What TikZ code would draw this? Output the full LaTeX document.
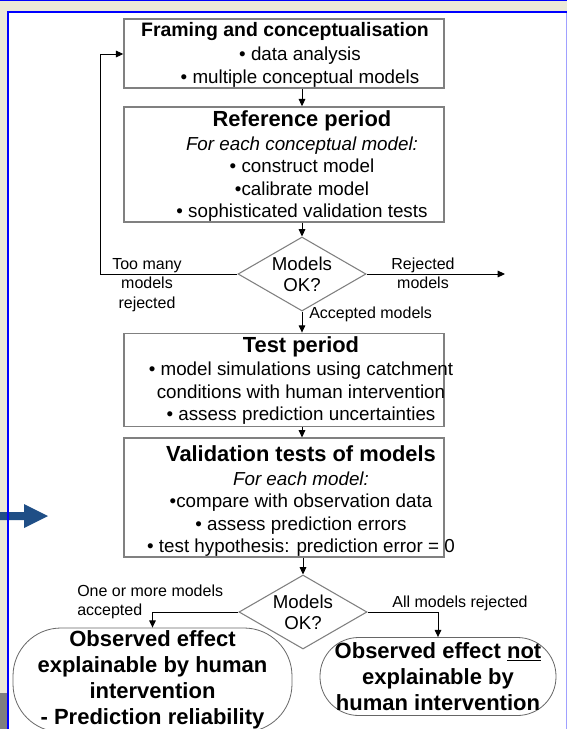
\documentclass[tikz,border=0pt]{standalone}
\usepackage{fontspec}
\setmainfont{Liberation Sans}
\usetikzlibrary{arrows.meta,shapes.geometric}

\definecolor{winbeige}{HTML}{ECE9D8}
\definecolor{frameblue}{HTML}{0000FF}
\definecolor{lavender}{HTML}{A0A0FF}
\definecolor{navyarrow}{HTML}{1F4E86}
\definecolor{boxgray}{HTML}{808080}
\definecolor{stripgray}{HTML}{7F7F7F}

\newcommand\boxtitle{\fontsize{16.4}{18}\selectfont\bfseries}
\newcommand\smalltitle{\fontsize{14.6}{18}\selectfont\bfseries}
\newcommand\outcomefont{\fontsize{16.5}{19.5}\selectfont\bfseries}
\newcommand\labeltext{\fontsize{12}{14.5}\selectfont}

\tikzset{
  flowbox/.style={draw=boxgray, line width=1.1pt, minimum width=240pt,
    inner sep=0pt},
  boxtext/.style={align=center, inner sep=0pt,
    font=\fontsize{14.1}{16.9}\selectfont},
  decision/.style={diamond, draw=boxgray, line width=0.8pt, inner sep=0pt,
    minimum width=96pt, minimum height=55.5pt},
  decisiontext/.style={align=center, inner sep=0pt,
    font=\fontsize{14}{15.5}\selectfont},
  outcome/.style={draw=boxgray!80!black, line width=0.6pt, align=center,
    inner sep=0pt, font=\outcomefont},
  arr/.style={draw=black, line width=0.75pt,
    -{Triangle[length=5.5pt,width=5pt]}},
  edgelabel/.style={inner sep=0pt, font=\labeltext}
}

\begin{document}
\begin{tikzpicture}[x=0.75pt,y=-0.75pt]
\useasboundingbox (0,0) rectangle (567,729);

% window background and frame
\fill[winbeige] (0,0) rectangle (567,729);
\fill[white] (8,13) rectangle (566,729);
\fill[frameblue] (0,0) rectangle (567,1);
\fill[stripgray] (0,693) rectangle (7,729);
\fill[lavender] (566,13) rectangle (567,729);
\fill[navyarrow] (0,512) -- (24,512) -- (24,504) -- (48,516) -- (24,528)
  -- (24,520) -- (0,520) -- cycle;
\fill[frameblue] (7,11) rectangle (567,12.8);
\fill[frameblue] (7,11) rectangle (8.6,729);

% process boxes (frames)
\node[flowbox, minimum height=51.75pt] (b1) at (284,53.5) {};
\node[flowbox, minimum height=86.25pt] (b2) at (284,164.5) {};
\node[flowbox, minimum height=70pt] (b3) at (284,380) {};
\node[flowbox, minimum height=89pt] (b4) at (284,497.5) {};

% process box texts, set in a column slightly right of the box centres
\node[boxtext] (b1t) at (300,55)
  {{\smalltitle Framing and conceptualisation}\makebox[22.5pt]{}\\[1pt]
   • data analysis\\
   • multiple conceptual models};
\node[boxtext] (b2t) at (302,166)
  {{\boxtitle Reference period}\\[1pt]
   \textit{For each conceptual model:}\\
   • construct model\\
   •calibrate model\\
   • sophisticated validation tests};
\node[boxtext] (b3t) at (301,380.5)
  {{\boxtitle Test period}\\[1pt]
   • model simulations using catchment\\
   conditions with human intervention\\
   • assess prediction uncertainties};
\node[boxtext] (b4t) at (301,501)
  {{\boxtitle Validation tests of models}\\[1pt]
   \textit{For each model:}\\
   •compare with observation data\\
   • assess prediction errors\\
   • test hypothesis: prediction error = 0};

% decisions
\node[decision] (d1) at (302,274) {};
\node[decisiontext] (d1t) at (d1) {Models\\OK?};
\node[decision] (d2) at (303,612) {};
\node[decisiontext] (d2t) at (d2) {Models\\OK?};

% outcomes
\node[outcome, minimum width=209.25pt, minimum height=78pt,
  rounded corners=36pt] (t1) at (152.5,680)
  {Observed effect\\explainable by human\\intervention\\- Prediction reliability};
\node[outcome, minimum width=177pt, minimum height=58.5pt,
  rounded corners=29pt] (t2) at (438,676.5)
  {Observed effect \underline{not}\\explainable by\\human intervention};

% free ends of connectors
\coordinate (rejend) at (505,274);
\coordinate (loopcorner) at (100,54);

% connectors
\draw[arr] (b1.south -| d1) -- (b2.north -| d1);
\draw[arr] (b2.south -| d1) -- (d1.north);
\draw[arr] (d1.east) -- (rejend);
\draw[arr] (d1.west) -| (loopcorner) -- (b1.west |- loopcorner);
\draw[arr] (d1.south) -- (b3.north -| d1);
\draw[arr] (b3.south -| d1) -- (b4.north -| d1);
\draw[arr] (b4.south -| d2) -- (d2.north);
\draw[arr] (d2.west) -| (t1.north);
\draw[arr] (d2.east) -| (t2.north);

% connector labels
\node[edgelabel, align=center] (lrej) at (423,273) {Rejected\\models};
\node[edgelabel, align=center] (ltoo) at (147,285) {Too many\\models\\rejected};
\node[edgelabel, anchor=west] (lacc) at (309,314) {Accepted models};
\node[edgelabel, align=left, anchor=west] (lone) at (77,602)
  {One or more models\\accepted};
\node[edgelabel] (lall) at (460,603) {All models rejected};
\end{tikzpicture}
\end{document}
